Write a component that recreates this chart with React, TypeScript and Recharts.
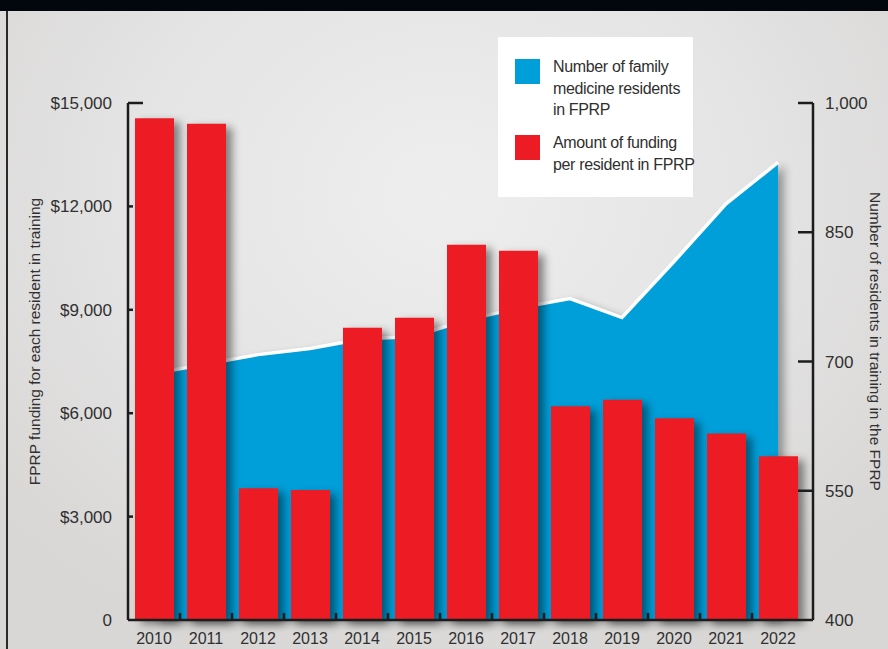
import { ComposedChart, Bar, Area, XAxis, YAxis, Legend } from 'recharts';

const years = ['2010', '2011', '2012', '2013', '2014', '2015', '2016', '2017', '2018', '2019', '2020', '2021', '2022'];
// FPRP funding per resident (left axis, $)
const fundingPerResident = [14560, 14400, 3820, 3770, 8480, 8770, 10890, 10710, 6200, 6390, 5850, 5410, 4750];
// number of family medicine residents (right axis)
const residents = [686, 697, 708, 715, 726, 729, 748, 762, 773, 751, 816, 883, 931];

const fundingTicks = [0, 3000, 6000, 9000, 12000, 15000];
const residentTicks = [400, 550, 700, 850, 1000];

const legendLines = [
  ['Number of family', 'medicine residents', 'in FPRP'],
  ['Amount of funding', 'per resident in FPRP'],
];

const leftTitle = 'FPRP funding for each resident in training';
const rightTitle = 'Number of residents in training in the FPRP';

const BLUE = '#009fda';
const RED = '#ed1c24';
const INK = '#1c1c1c';
const TEXT = '#303030';
const FONT = '"Liberation Sans", Arial, sans-serif';

const data = years.map((year, i) => ({
  year,
  funding: fundingPerResident[i],
  residents: residents[i],
}));

function FundingTick({ x, y, payload }: any) {
  const v = payload.value;
  const label = v === 0 ? '0' : '$' + v.toLocaleString('en-US');
  const axisX = x + 16;
  return (
    <g>
      <text x={x} y={y} dy={6} textAnchor="end" fontSize={17} fill={TEXT} fontFamily={FONT}>
        {label}
      </text>
      {v > 0 && (
        <line x1={axisX} x2={axisX + (v === 15000 ? 15 : 5)} y1={y} y2={y} stroke={INK} strokeWidth={2.5} />
      )}
    </g>
  );
}

function ResidentTick({ x, y, payload }: any) {
  const v = payload.value;
  const axisX = x - 12;
  return (
    <g>
      <text x={x} y={y} dy={6} textAnchor="start" fontSize={17} fill={TEXT} fontFamily={FONT}>
        {v.toLocaleString('en-US')}
      </text>
      {v > 400 && <line x1={axisX - 15} x2={axisX} y1={y} y2={y} stroke={INK} strokeWidth={2.5} />}
    </g>
  );
}

function YearTick({ x, y, payload, index }: any) {
  const off = payload.offset ?? 26;
  return (
    <g>
      <text x={x} y={y + 24} textAnchor="middle" fontSize={16} fill={TEXT} fontFamily={FONT}>
        {payload.value}
      </text>
      {index > 0 && <line x1={x - off} x2={x - off} y1={y} y2={y - 7} stroke={INK} strokeWidth={2.5} />}
    </g>
  );
}

function AxisTitle({ viewBox, value, side }: any) {
  const cx = side === 'left' ? viewBox.x + 34 : viewBox.x + 62;
  const cy = viewBox.y + viewBox.height / 2 - 20;
  return (
    <text
      x={cx}
      y={cy}
      textAnchor="middle"
      dominantBaseline="central"
      fontSize={15.5}
      fill={TEXT}
      fontFamily={FONT}
      transform={`rotate(${side === 'left' ? -90 : 90}, ${cx}, ${cy})`}
    >
      {value}
    </text>
  );
}

function LegendBox() {
  const colors = [BLUE, RED];
  const tops = [19, 95];
  return (
    <div
      style={{
        position: 'relative',
        width: 195,
        height: 160,
        background: '#ffffff',
        fontFamily: FONT,
        fontSize: 16,
        letterSpacing: '-0.35px',
        color: TEXT,
      }}
    >
      {legendLines.map((lines, i) => (
        <div key={i}>
          <div
            style={{ position: 'absolute', left: 17, top: tops[i] + 3, width: 25, height: 25, background: colors[i] }}
          />
          <div style={{ position: 'absolute', left: 55, top: tops[i], lineHeight: '21.5px', whiteSpace: 'nowrap' }}>
            {lines.map((l) => (
              <div key={l}>{l}</div>
            ))}
          </div>
        </div>
      ))}
    </div>
  );
}

export default function App() {
  return (
    <div
      style={{
        position: 'absolute',
        left: 0,
        top: 0,
        width: 888,
        height: 649,
        overflow: 'hidden',
        background: 'radial-gradient(ellipse 65% 75% at 50% 30%, #eeeeef 0%, #e5e4e4 55%, #d8d7d6 100%)',
      }}
    >
      <style>{`
        .recharts-bar-rectangle .recharts-rectangle { filter: drop-shadow(6px 4px 4px rgba(0,0,0,0.45)); }
        .recharts-area-area { filter: drop-shadow(6px 3px 4px rgba(0,0,0,0.35)); }
      `}</style>
      <div style={{ position: 'absolute', left: 0, top: 0, width: 888, height: 11, background: '#02060d' }} />
      <div style={{ position: 'absolute', left: 6, top: 11, width: 2, height: 638, background: '#2a2a2a' }} />
      <div style={{ position: 'absolute', left: 0, top: 0 }}>
        <ComposedChart width={888} height={649} data={data} margin={{ top: 103, right: 0, bottom: 0, left: 0 }}>
          <XAxis
            dataKey="year"
            height={29}
            interval={0}
            padding={{ left: 0, right: 9 }}
            axisLine={{ stroke: INK, strokeWidth: 2.5 }}
            tickLine={false}
            tickSize={0}
            tickMargin={0}
            tick={<YearTick />}
          />
          <YAxis
            yAxisId="left"
            orientation="left"
            width={128}
            domain={[0, 15000]}
            ticks={fundingTicks}
            axisLine={{ stroke: INK, strokeWidth: 2.5 }}
            tickLine={false}
            tickSize={0}
            tickMargin={16}
            tick={<FundingTick />}
            label={{ content: (p: any) => <AxisTitle {...p} value={leftTitle} side="left" /> }}
          />
          <YAxis
            yAxisId="right"
            orientation="right"
            width={75}
            domain={[400, 1000]}
            ticks={residentTicks}
            axisLine={{ stroke: INK, strokeWidth: 2.5 }}
            tickLine={false}
            tickSize={0}
            tickMargin={12}
            tick={<ResidentTick />}
            label={{ content: (p: any) => <AxisTitle {...p} value={rightTitle} side="right" /> }}
          />
          <Legend
            layout="horizontal"
            verticalAlign="middle"
            align="center"
            content={<LegendBox />}
            wrapperStyle={{ left: 498, top: 37, width: 195, height: 160 }}
          />
          <Area
            yAxisId="right"
            type="linear"
            dataKey="residents"
            name="Number of family medicine residents in FPRP"
            fill={BLUE}
            fillOpacity={1}
            stroke="#ffffff"
            strokeWidth={3.5}
            isAnimationActive={false}
          />
          <Bar
            yAxisId="left"
            dataKey="funding"
            name="Amount of funding per resident in FPRP"
            fill={RED}
            barSize={39}
            isAnimationActive={false}
          />
        </ComposedChart>
      </div>
    </div>
  );
}
